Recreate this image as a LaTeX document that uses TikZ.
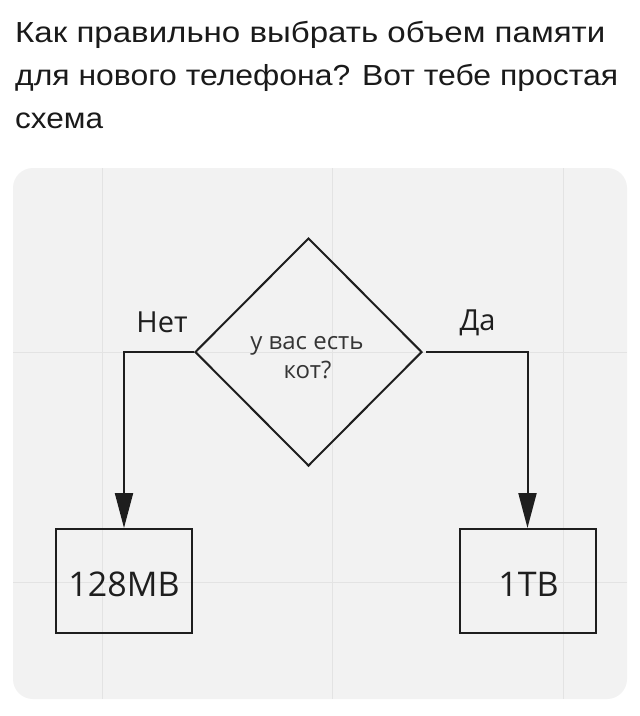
\documentclass[tikz,border=0pt]{standalone}
\usepackage{fontspec}
\usepackage{graphicx}
\usetikzlibrary{shapes.geometric,arrows.meta}
\newfontfamily\titlefont{Liberation Sans}
\newfontfamily\diafont{Open Sans}
\definecolor{panelgray}{HTML}{F2F2F2}
\definecolor{gridgray}{HTML}{E3E3E3}
\definecolor{ink}{HTML}{1E1E1E}
\definecolor{titleink}{HTML}{1A1A1A}
\tikzset{
  titleline/.style={anchor=base west, inner sep=0pt, text=titleink,
    font=\titlefont\fontsize{29pt}{29pt}\selectfont},
  decision/.style={diamond, draw=ink, line width=2pt, inner sep=0pt,
    minimum width=227pt, minimum height=228pt},
  membox/.style={draw=ink, line width=2pt, inner sep=0pt,
    minimum width=136pt, minimum height=104pt},
  branchlbl/.style={anchor=base, inner sep=0pt, text=ink,
    font=\diafont\fontsize{29pt}{29pt}\selectfont},
  qtext/.style={anchor=base, inner sep=0pt, text=ink!90,
    font=\diafont\fontsize{24pt}{24pt}\selectfont},
  boxtext/.style={anchor=base, inner sep=0pt, text=ink,
    font=\diafont\fontsize{34pt}{34pt}\selectfont},
  conn/.style={draw=ink, line width=2pt, -{Triangle[length=35pt,width=18pt]}},
  gridline/.style={draw=gridgray, line width=1pt}
}
\begin{document}
\begin{tikzpicture}[x=1pt,y=-1pt]
\useasboundingbox[fill=white] (0,0) rectangle (640,716);
% title
\node[titleline] (t1) at (15,42) {\resizebox{590pt}{\height}{Как правильно выбрать объем памяти}};
\node[titleline] (t2) at (15,85) {\resizebox{603pt}{\height}{для нового телефона? Вот тебе простая}};
\node[titleline] (t3) at (15,128) {\resizebox{88pt}{\height}{схема}};
% panel
\fill[panelgray, rounded corners=20pt] (13,168) rectangle (627,699);
\begin{scope}
  \clip[rounded corners=20pt] (13,168) rectangle (627,699);
  \draw[gridline] (102,168) -- (102,699);
  \draw[gridline] (332,168) -- (332,699);
  \draw[gridline] (563,168) -- (563,699);
  \draw[gridline] (13,352) -- (627,352);
  \draw[gridline] (13,582) -- (627,582);
\end{scope}
% diagram
\node[decision] (d) at (308.5,352) {};
\node[qtext] (q1) at (307,349) {у вас есть};
\node[qtext] (q2) at (307.5,378) {кот?};
\node[membox] (b1) at (124,581) {};
\node[membox] (b2) at (527.5,581) {};
\node[boxtext] (b1t) at (124,596) {128MB};
\node[boxtext] (b2t) at (528.5,596) {1TB};
\node[branchlbl] (no) at (162,332) {Нет};
\node[branchlbl] (yes) at (477.5,330) {Да};
\draw[conn] (d.west) -| (b1.north);
\draw[conn] ([xshift=3pt]d.east) -| (b2.north);
\end{tikzpicture}
\end{document}
